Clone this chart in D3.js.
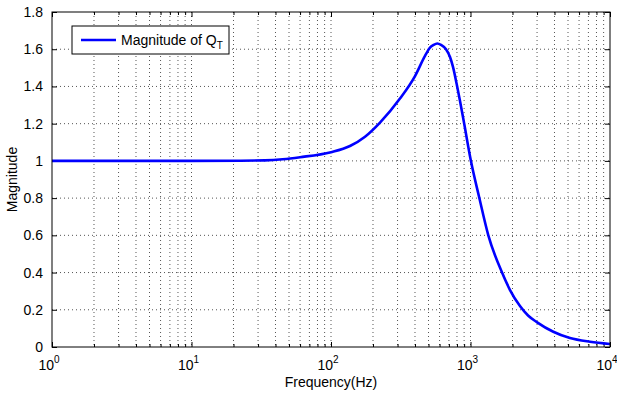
<!DOCTYPE html>
<html>
<head>
	<meta charset="utf-8">
	<title>Magnitude of QT</title>
	<style>
		body { margin: 0; background: #fff; }
		svg { display: block; font-family: 'Liberation Sans', Arial, sans-serif; }
		.grid line { stroke: #555; stroke-width: 1; stroke-dasharray: 1,3; }
	</style>
</head>
<body>
	<svg width="617" height="394"></svg>
<script src="https://d3js.org/d3.v7.min.js"></script>
<script>
	// values
	let freq = [1, 10, 22.3, 33.6, 45, 60, 100, 136.8, 175.3, 224.5, 312.2, 400.2, 471.9, 512.5, 543, 578,
		614.8, 667.5, 713, 749, 796, 841, 898, 1004, 1156, 1342, 1683, 1920, 2263, 2585, 2985, 3923, 5164, 7190, 10000]
	let mag = [1.000, 1.000, 1.001, 1.003, 1.009, 1.020, 1.047, 1.080, 1.130, 1.206, 1.335, 1.456, 1.564, 1.609, 1.623, 1.631,
		1.623, 1.600, 1.558, 1.505, 1.413, 1.322, 1.206, 1.005, 0.802, 0.600, 0.400, 0.306, 0.220, 0.169, 0.134, 0.082, 0.048, 0.028, 0.016]

	let yTicks = [0, 0.2, 0.4, 0.6, 0.8, 1, 1.2, 1.4, 1.6, 1.8]
	let xDecades = [0, 1, 2, 3, 4]
	let legendLabel = 'Magnitude of Q'
	let legendSub = 'T'

	let pLeft = 52, pRight = 610, pTop = 12, pBottom = 347

	let svg = d3.select('svg')

	let x = d3.scaleLog()
		.domain([1, 1e4])
		.range([pLeft, pRight])

	let y = d3.scaleLinear()
		.domain([0, 1.8])
		.range([pBottom, pTop])

	// minor ticks 2..9 each decade
	let minor = []
	xDecades.slice(0, -1).forEach(k => {
		for (let m = 2; m <= 9; m++) minor.push(m * Math.pow(10, k))
	})
	let major = xDecades.map(k => Math.pow(10, k))

	// grid
	let grid = svg.append('g').attr('class', 'grid')
	grid.selectAll('.vx')
		.data(major.slice(1, -1).concat(minor))
		.join('line')
		.attr('x1', d => x(d)).attr('x2', d => x(d))
		.attr('y1', pTop).attr('y2', pBottom)
	grid.selectAll('.hy')
		.data(yTicks.slice(1, -1))
		.join('line')
		.attr('x1', pLeft).attr('x2', pRight)
		.attr('y1', d => y(d)).attr('y2', d => y(d))

	// axes, ticks inward on all four sides
	svg.append('g').attr('transform', `translate(0,${pBottom})`)
		.call(d3.axisBottom(x).tickValues(major).tickSizeInner(-5).tickSizeOuter(0).tickFormat(''))
	svg.append('g').attr('transform', `translate(0,${pBottom})`)
		.call(d3.axisBottom(x).tickValues(minor).tickSizeInner(-3).tickSizeOuter(0).tickFormat(''))
	svg.append('g').attr('transform', `translate(0,${pTop})`)
		.call(d3.axisTop(x).tickValues(major).tickSizeInner(-5).tickSizeOuter(0).tickFormat(''))
	svg.append('g').attr('transform', `translate(0,${pTop})`)
		.call(d3.axisTop(x).tickValues(minor).tickSizeInner(-3).tickSizeOuter(0).tickFormat(''))
	let yl = svg.append('g').attr('transform', `translate(${pLeft},0)`)
		.call(d3.axisLeft(y).tickValues(yTicks).tickSizeInner(-5).tickSizeOuter(0).tickPadding(9).tickFormat(d3.format('~g')))
	svg.append('g').attr('transform', `translate(${pRight},0)`)
		.call(d3.axisRight(y).tickValues(yTicks).tickSizeInner(-5).tickSizeOuter(0).tickFormat(''))

	svg.selectAll('.domain').remove()
	svg.selectAll('.tick line').attr('stroke', '#000')
	yl.selectAll('text')
		.attr('font-size', 14)
		.attr('font-family', 'Liberation Sans, Arial, sans-serif')
		.attr('fill', '#000')

	// x tick labels as 10^k
	let xl = svg.append('g')
		.selectAll('text')
		.data(xDecades)
		.join('text')
		.attr('x', d => x(Math.pow(10, d)) - 3)
		.attr('y', pBottom + 23)
		.attr('text-anchor', 'middle')
		.attr('font-size', 14)
	xl.append('tspan').text('10')
	xl.append('tspan')
		.attr('dy', -7)
		.attr('font-size', 10)
		.text(d => d)

	// curve
	let line = d3.line()
		.x((d, i) => x(freq[i]))
		.y(d => y(d))
		.curve(d3.curveMonotoneX)

	svg.append('path')
		.datum(mag)
		.attr('d', line)
		.attr('fill', 'none')
		.attr('stroke', '#0000ff')
		.attr('stroke-width', 2.6)

	// box
	svg.append('rect')
		.attr('x', pLeft).attr('y', pTop)
		.attr('width', pRight - pLeft).attr('height', pBottom - pTop)
		.attr('fill', 'none')
		.attr('stroke', '#000')
		.attr('stroke-width', 1)

	// labels
	svg.append('text')
		.attr('x', (pLeft + pRight) / 2)
		.attr('y', 387)
		.attr('text-anchor', 'middle')
		.attr('font-size', 14)
		.text('Frequency(Hz)')

	svg.append('text')
		.attr('transform', `translate(17,${(pTop + pBottom) / 2}) rotate(-90)`)
		.attr('text-anchor', 'middle')
		.attr('font-size', 14)
		.text('Magnitude')

	// legend
	let lg = svg.append('g')
	lg.append('rect')
		.attr('x', 72).attr('y', 26)
		.attr('width', 157).attr('height', 28)
		.attr('fill', '#fff')
		.attr('stroke', '#000')
	lg.append('line')
		.attr('x1', 81).attr('x2', 116)
		.attr('y1', 40).attr('y2', 40)
		.attr('stroke', '#0000ff')
		.attr('stroke-width', 2.6)
	let lt = lg.append('text')
		.attr('x', 121).attr('y', 45)
		.attr('font-size', 14)
	lt.append('tspan').text(legendLabel)
	lt.append('tspan').attr('dy', 4).attr('font-size', 10).text(legendSub)
</script>
</body>
</html>
